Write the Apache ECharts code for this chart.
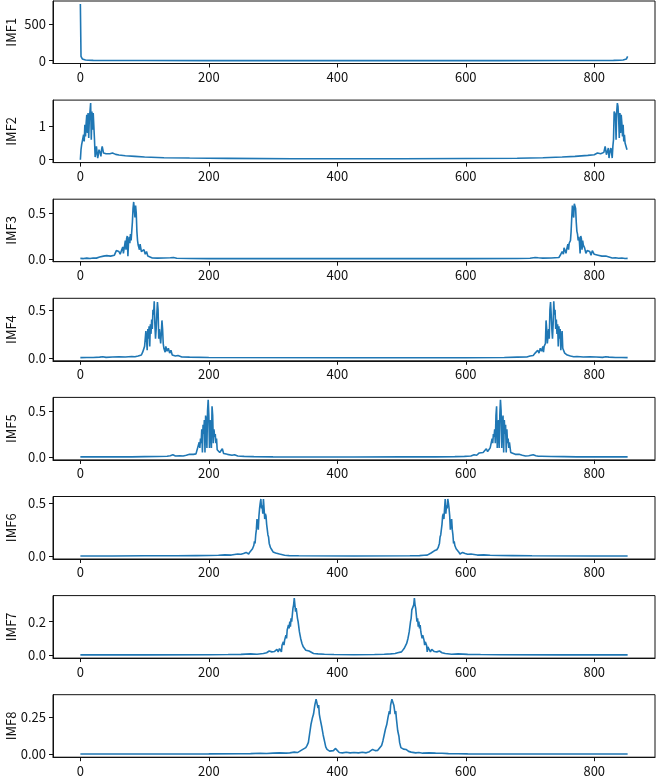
<!DOCTYPE html>
<html>
<head>
<meta charset="utf-8">
<title>IMF spectra</title>
<script src="https://cdn.jsdelivr.net/npm/echarts@6/dist/echarts.min.js"></script>
<style>
  html, body { margin: 0; padding: 0; background: #fff; }
  #chart { width: 658px; height: 776px; }
</style>
</head>
<body>
<div id="chart"></div>
<script>
// ---- data: [frequency index, amplitude] ----
var imf1 = [[0,780],[1,60],[2,35],[3,24],[4,18],[6,12],[8,9],[12,6],[20,4],[40,2.5],[100,1.5],[200,1],[426,0.8],
  [650,1],[750,1.5],[810,2.5],[830,4],[840,6],[845,9],[848,14],[850,22],[851,35],[852,58]];

var imf2 = [[0,0],[1,0.3],[2,0.45],[3,0.55],[4,0.5],[5,0.75],[6,0.55],[7,1.05],[8,0.7],[9,1.1],[10,1.35],[11,0.8],
  [12,1.4],[13,0.65],[14,1.25],[15,1.45],[16,1.7],[17,0.6],[18,1.45],[19,0.9],[20,1.4],[21,1.45],[22,0.6],[23,0.08],
  [24,0.2],[25,0.4],[26,0.35],[27,0.05],[28,0.15],[29,0.3],[30,0.35],[31,0.2],[32,0.1],[33,0.3],[34,0.4],[35,0.3],
  [36,0.2],[38,0.25],[40,0.18],[43,0.22],[46,0.18],[50,0.2],[55,0.16],[60,0.14],[70,0.12],[85,0.1],[100,0.08],
  [130,0.06],[170,0.05],[230,0.04],[330,0.03],[426,0.03],[500,0.03],[600,0.035],[680,0.045],[720,0.06],[750,0.08],
  [770,0.1],[790,0.13],[800,0.15],[805,0.2],[810,0.18],[815,0.22],[817,0.4],[819,0.15],[820,0.2],[822,0.35],
  [823,0.05],[824,0.2],[826,0.35],[827,0.2],[828,0.05],[829,0.4],[830,0.6],[831,1.45],[832,1.4],[833,1.35],
  [834,0.6],[835,1.45],[836,1.7],[837,1.6],[838,1.25],[839,0.65],[840,1.4],[841,0.8],[842,1.35],[843,1.1],
  [844,0.7],[845,1.05],[846,0.55],[847,0.75],[848,0.5],[849,0.55],[850,0.45],[851,0.3],[852,0.3]];

var imf3 = [[0,0.005],[5,0.003],[10,0.008],[15,0.004],[20,0.01],[25,0.008],[30,0.02],[33,0.015],[36,0.03],[38,0.02],
  [41,0.035],[44,0.02],[47,0.03],[50,0.02],[53,0.04],[56,0.09],[58,0.07],[60,0.08],[62,0.05],[64,0.09],[66,0.13],
  [67,0.06],[69,0.15],[70,0.2],[71,0.1],[72,0.22],[73,0.25],[74,0.03],[75,0.18],[76,0.24],[77,0.17],[78,0.27],
  [79,0.2],[80,0.3],[81,0.4],[82,0.55],[83,0.62],[84,0.6],[85,0.45],[86,0.58],[87,0.5],[88,0.3],[89,0.2],[90,0.15],
  [91,0.17],[92,0.1],[93,0.16],[94,0.12],[95,0.08],[96,0.1],[97,0.06],[99,0.1],[100,0.12],[101,0.05],[103,0.08],
  [105,0.03],[108,0.015],[112,0.01],[120,0.008],[130,0.01],[140,0.012],[145,0.015],[150,0.006],[170,0.004],
  [200,0.003],[426,0.002],[600,0.002],[680,0.004],[700,0.006],[708,0.015],[713,0.012],[720,0.008],[733,0.01],
  [745,0.015],[748,0.05],[750,0.08],[752,0.05],[753,0.12],[754,0.1],[756,0.06],[757,0.1],[759,0.16],[760,0.1],
  [761,0.17],[762,0.15],[763,0.2],[764,0.3],[765,0.45],[766,0.58],[767,0.5],[768,0.45],[769,0.6],[770,0.62],
  [771,0.55],[772,0.4],[773,0.3],[774,0.27],[775,0.2],[776,0.24],[777,0.18],[778,0.06],[779,0.25],[780,0.22],
  [781,0.1],[782,0.2],[783,0.15],[785,0.12],[787,0.06],[789,0.09],[791,0.07],[793,0.08],[795,0.04],[797,0.09],
  [800,0.05],[803,0.03],[806,0.04],[809,0.02],[812,0.03],[815,0.02],[818,0.03],[820,0.015],[823,0.02],[828,0.01],
  [833,0.012],[838,0.006],[843,0.01],[848,0.004],[852,0.005]];

var imf4 = [[0,0.003],[10,0.005],[20,0.004],[30,0.008],[35,0.012],[40,0.006],[50,0.01],[60,0.012],[70,0.01],
  [80,0.015],[85,0.012],[90,0.02],[93,0.04],[95,0.03],[97,0.06],[99,0.05],[100,0.12],[101,0.1],[102,0.28],
  [103,0.2],[104,0.08],[105,0.3],[106,0.2],[107,0.33],[108,0.12],[109,0.35],[110,0.25],[111,0.4],[112,0.3],
  [113,0.5],[114,0.45],[115,0.59],[116,0.35],[117,0.2],[118,0.3],[119,0.45],[120,0.58],[121,0.5],[122,0.2],
  [123,0.3],[124,0.22],[125,0.15],[126,0.25],[127,0.39],[128,0.3],[129,0.15],[130,0.1],[131,0.12],[132,0.06],
  [133,0.12],[135,0.07],[137,0.1],[139,0.05],[141,0.08],[143,0.03],[145,0.05],[148,0.02],[152,0.025],[158,0.01],
  [170,0.008],[200,0.004],[426,0.002],[600,0.002],[660,0.004],[680,0.008],[695,0.01],[700,0.02],[705,0.025],
  [708,0.05],[710,0.03],[712,0.08],[714,0.05],[716,0.1],[718,0.07],[720,0.12],[721,0.06],[722,0.12],[723,0.1],
  [724,0.15],[725,0.39],[726,0.3],[727,0.15],[728,0.22],[729,0.3],[730,0.2],[731,0.5],[732,0.58],[733,0.45],
  [734,0.3],[735,0.2],[736,0.35],[737,0.59],[738,0.45],[739,0.5],[740,0.3],[741,0.4],[742,0.25],[743,0.35],
  [744,0.12],[745,0.33],[746,0.2],[747,0.3],[748,0.08],[749,0.2],[750,0.28],[751,0.1],[752,0.12],[754,0.05],
  [756,0.06],[758,0.03],[760,0.04],[763,0.02],[768,0.012],[773,0.015],[783,0.01],[793,0.012],[803,0.01],
  [813,0.006],[818,0.012],[823,0.008],[833,0.004],[843,0.005],[852,0.003]];

var imf5 = [[0,0.003],[40,0.004],[80,0.003],[100,0.005],[120,0.006],[135,0.01],[140,0.015],[144,0.025],[148,0.012],
  [155,0.015],[160,0.012],[165,0.02],[170,0.03],[173,0.05],[176,0.03],[180,0.035],[183,0.05],[185,0.16],[186,0.1],
  [187,0.2],[188,0.15],[189,0.3],[190,0.05],[191,0.35],[192,0.25],[193,0.4],[194,0.05],[195,0.45],[196,0.38],
  [197,0.1],[198,0.5],[199,0.62],[200,0.45],[201,0.1],[202,0.4],[203,0.3],[204,0.1],[205,0.55],[206,0.45],
  [207,0.15],[208,0.3],[209,0.22],[210,0.25],[211,0.15],[212,0.2],[213,0.08],[215,0.1],[217,0.05],[219,0.06],
  [221,0.09],[223,0.04],[226,0.05],[229,0.03],[232,0.045],[236,0.02],[240,0.025],[245,0.012],[255,0.008],
  [270,0.005],[300,0.003],[426,0.002],[500,0.003],[553,0.003],[583,0.005],[598,0.008],[608,0.012],[613,0.025],
  [617,0.02],[621,0.045],[624,0.03],[627,0.05],[630,0.04],[632,0.09],[634,0.06],[636,0.05],[638,0.1],[640,0.08],
  [641,0.2],[642,0.15],[643,0.25],[644,0.22],[645,0.3],[646,0.15],[647,0.45],[648,0.55],[649,0.1],[650,0.3],
  [651,0.4],[652,0.1],[653,0.45],[654,0.62],[655,0.5],[656,0.1],[657,0.38],[658,0.45],[659,0.05],[660,0.4],
  [661,0.25],[662,0.35],[663,0.05],[664,0.3],[665,0.15],[666,0.2],[667,0.1],[668,0.16],[670,0.05],[673,0.035],
  [677,0.03],[680,0.05],[683,0.03],[688,0.02],[693,0.012],[698,0.015],[705,0.025],[709,0.015],[713,0.01],
  [718,0.01],[733,0.006],[753,0.005],[773,0.003],[813,0.004],[852,0.003]];

var imf6 = [[0,0.002],[50,0.002],[100,0.003],[150,0.003],[180,0.005],[200,0.006],[215,0.008],[225,0.012],[235,0.01],
  [240,0.015],[245,0.02],[250,0.018],[254,0.025],[258,0.035],[260,0.025],[262,0.02],[264,0.04],[266,0.055],
  [268,0.07],[270,0.1],[271,0.14],[272,0.12],[273,0.2],[274,0.25],[275,0.35],[276,0.3],[277,0.25],[278,0.38],
  [279,0.45],[280,0.5],[281,0.54],[282,0.45],[283,0.48],[284,0.4],[285,0.54],[286,0.45],[287,0.35],[288,0.4],
  [289,0.38],[290,0.3],[291,0.25],[292,0.2],[293,0.18],[294,0.12],[295,0.1],[296,0.08],[298,0.06],[300,0.04],
  [302,0.05],[304,0.03],[307,0.03],[310,0.02],[313,0.01],[318,0.008],[325,0.005],[340,0.003],[426,0.002],
  [513,0.003],[528,0.005],[535,0.008],[540,0.01],[543,0.02],[546,0.03],[549,0.03],[551,0.05],[553,0.04],
  [555,0.06],[557,0.08],[558,0.1],[559,0.12],[560,0.18],[561,0.2],[562,0.25],[563,0.3],[564,0.38],[565,0.4],
  [566,0.35],[567,0.45],[568,0.54],[569,0.4],[570,0.48],[571,0.45],[572,0.54],[573,0.5],[574,0.45],[575,0.38],
  [576,0.25],[577,0.3],[578,0.35],[579,0.25],[580,0.2],[581,0.12],[582,0.14],[583,0.1],[585,0.07],[587,0.055],
  [589,0.04],[591,0.02],[593,0.025],[595,0.035],[599,0.025],[603,0.018],[608,0.02],[613,0.015],[618,0.01],
  [628,0.012],[638,0.008],[653,0.006],[673,0.005],[703,0.003],[800,0.002],[852,0.002]];

var imf7 = [[0,0.002],[100,0.002],[200,0.003],[230,0.004],[250,0.005],[265,0.008],[275,0.006],[285,0.01],[290,0.015],
  [294,0.025],[298,0.02],[302,0.022],[306,0.035],[308,0.02],[310,0.04],[312,0.05],[313,0.02],[314,0.06],[316,0.08],
  [317,0.06],[318,0.09],[320,0.12],[321,0.1],[322,0.15],[323,0.14],[324,0.18],[325,0.16],[326,0.2],[327,0.17],
  [328,0.22],[329,0.2],[330,0.24],[331,0.28],[332,0.3],[333,0.34],[334,0.3],[335,0.26],[336,0.28],[337,0.27],
  [338,0.22],[339,0.2],[340,0.17],[341,0.14],[342,0.12],[343,0.1],[345,0.07],[347,0.05],[349,0.04],[351,0.03],
  [353,0.02],[356,0.025],[359,0.015],[363,0.01],[370,0.008],[380,0.006],[395,0.004],[426,0.003],[458,0.004],
  [473,0.006],[483,0.008],[490,0.01],[494,0.015],[497,0.025],[500,0.02],[502,0.03],[504,0.04],[506,0.05],
  [508,0.07],[510,0.1],[511,0.12],[512,0.14],[513,0.17],[514,0.2],[515,0.22],[516,0.27],[517,0.28],[518,0.26],
  [519,0.3],[520,0.34],[521,0.3],[522,0.28],[523,0.24],[524,0.2],[525,0.22],[526,0.17],[527,0.2],[528,0.16],
  [529,0.18],[530,0.14],[531,0.15],[532,0.1],[533,0.12],[535,0.09],[536,0.06],[537,0.08],[539,0.06],[540,0.02],
  [541,0.05],[543,0.04],[545,0.02],[547,0.035],[551,0.022],[555,0.02],[559,0.025],[563,0.015],[568,0.01],
  [578,0.006],[588,0.008],[603,0.005],[623,0.004],[653,0.003],[750,0.002],[852,0.002]];

var imf8 = [[0,0.002],[100,0.002],[200,0.003],[250,0.004],[265,0.005],[280,0.007],[290,0.006],[300,0.008],[310,0.01],
  [320,0.008],[326,0.01],[333,0.015],[338,0.012],[341,0.018],[345,0.03],[348,0.035],[351,0.045],[353,0.06],
  [355,0.08],[357,0.14],[359,0.2],[361,0.24],[363,0.27],[364,0.3],[365,0.33],[366,0.35],[367,0.37],[368,0.38],
  [369,0.36],[370,0.31],[371,0.33],[372,0.27],[373,0.245],[374,0.25],[376,0.18],[378,0.13],[380,0.09],[382,0.05],
  [384,0.033],[386,0.025],[388,0.022],[391,0.03],[394,0.025],[397,0.04],[400,0.03],[403,0.012],[408,0.01],
  [414,0.014],[420,0.01],[426,0.012],[433,0.01],[439,0.014],[445,0.01],[450,0.018],[455,0.033],[459,0.025],
  [463,0.027],[466,0.04],[469,0.06],[471,0.09],[473,0.13],[475,0.17],[477,0.2],[479,0.25],[481,0.29],[482,0.27],
  [483,0.33],[484,0.35],[485,0.37],[486,0.38],[487,0.36],[488,0.33],[489,0.3],[490,0.27],[491,0.29],[492,0.24],
  [493,0.2],[494,0.16],[496,0.12],[497,0.08],[499,0.045],[501,0.04],[503,0.035],[507,0.033],[511,0.02],
  [515,0.015],[518,0.007],[522,0.01],[527,0.012],[533,0.008],[543,0.01],[553,0.008],[563,0.007],[573,0.005],
  [588,0.004],[603,0.003],[700,0.002],[852,0.002]];

var names = ['IMF1','IMF2','IMF3','IMF4','IMF5','IMF6','IMF7','IMF8'];
var xTicks = [0, 200, 400, 600, 800];
var yTicks = [[0,500],[0,1],[0,0.5],[0,0.5],[0,0.5],[0,0.5],[0,0.2],[0,0.25]];
var yTickText = [['0','500'],['0','1'],['0.0','0.5'],['0.0','0.5'],['0.0','0.5'],['0.0','0.5'],['0.0','0.2'],['0.00','0.25']];

// axis limits (matplotlib-style 5% margins)
var yLim = [[-39,820],[-0.087,1.79],[-0.031,0.65],[-0.03,0.62],[-0.03,0.645],[-0.027,0.563],[-0.017,0.355],[-0.019,0.40]];
var series_data = [imf1, imf2, imf3, imf4, imf5, imf6, imf7, imf8];

var FONT = '"Noto Sans CJK SC", sans-serif';
var INK = '#111';
var grids = [], xAxes = [], yAxes = [], series = [];

for (var i = 0; i < 8; i++) {
  grids.push({
    left: 53, right: 3, top: 1 + i * 99.1, height: 62.5,
    show: true, borderColor: INK, borderWidth: 1, backgroundColor: 'transparent',
    outerBoundsMode: 'none'
  });
  xAxes.push({
    type: 'value', gridIndex: i, min: -42.6, max: 894.6,
    splitLine: { show: false },
    axisLine: { show: true, onZero: false, lineStyle: { color: INK, width: 1 } },
    axisTick: { show: true, inside: false, length: 4, lineStyle: { color: INK }, customValues: xTicks },
    axisLabel: { color: INK, fontFamily: FONT, fontSize: 13, margin: 7, customValues: xTicks }
  });
  (function (idx) {
    yAxes.push({
      type: 'value', gridIndex: idx, min: yLim[idx][0], max: yLim[idx][1],
      name: names[idx], nameLocation: 'middle', nameGap: 35, nameRotate: 90,
      nameMoveOverlap: false,
      nameTextStyle: { color: INK, fontFamily: FONT, fontSize: 13 },
      splitLine: { show: false },
      axisLine: { show: true, onZero: false, lineStyle: { color: INK, width: 1 } },
      axisTick: { show: true, inside: false, length: 4, lineStyle: { color: INK }, customValues: yTicks[idx] },
      axisLabel: {
        color: INK, fontFamily: FONT, fontSize: 13, margin: 7, customValues: yTicks[idx],
        formatter: function (v) {
          var k = yTicks[idx].indexOf(v);
          return k >= 0 ? yTickText[idx][k] : '';
        }
      }
    });
  })(i);
  series.push({
    type: 'line', xAxisIndex: i, yAxisIndex: i, data: series_data[i],
    showSymbol: false, symbol: 'none', clip: true,
    lineStyle: { color: '#1f77b4', width: 1.6 },
    emphasis: { disabled: true }
  });
}

var myChart = echarts.init(document.getElementById('chart'));
myChart.setOption({
  animation: false,
  grid: grids,
  xAxis: xAxes,
  yAxis: yAxes,
  series: series
});
</script>
</body>
</html>
